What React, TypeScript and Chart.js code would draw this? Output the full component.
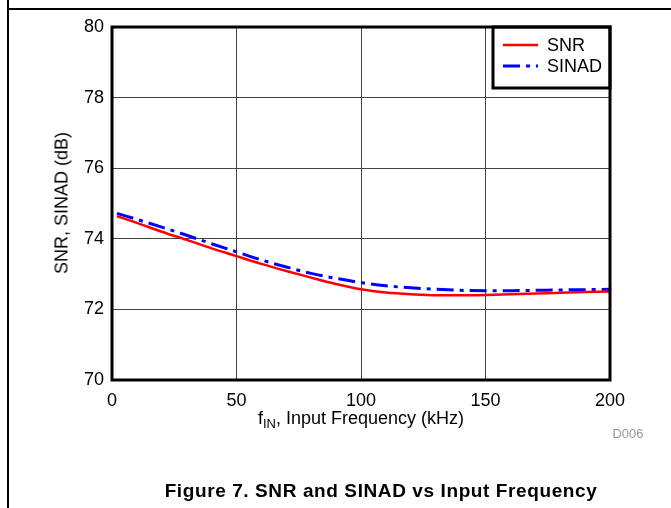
import React, { useEffect, useRef } from "react";
import { Chart, registerables } from "chart.js";

Chart.register(...registerables);

const freqKHz = [2, 10, 20, 30, 40, 50, 60, 70, 80, 90, 100, 110, 120, 130, 140, 150, 160, 170, 180, 190, 200];
const snr = [74.64, 74.45, 74.2, 73.97, 73.73, 73.51, 73.29, 73.09, 72.9, 72.72, 72.57, 72.48, 72.43, 72.4, 72.4, 72.41, 72.43, 72.45, 72.47, 72.49, 72.51];
const sinad = [74.72, 74.55, 74.33, 74.1, 73.86, 73.63, 73.4, 73.2, 73.02, 72.88, 72.76, 72.67, 72.61, 72.57, 72.54, 72.53, 72.53, 72.54, 72.55, 72.56, 72.57];
const seriesNames = ["SNR", "SINAD"];
const xTicks = [0, 50, 100, 150, 200];
const yTicks = [70, 72, 74, 76, 78, 80];

const FONT = "'Liberation Sans', Arial, sans-serif";

const framePlugin = {
  id: "frame",
  afterDatasetsDraw(chart: any) {
    const { ctx, chartArea } = chart;
    const { left, right, top, bottom } = chartArea;
    ctx.save();
    // legend box
    const lx = 493, ly = top, lw = right - 493, lh = 61;
    ctx.fillStyle = "#fff";
    ctx.fillRect(lx, ly, lw, lh);
    ctx.strokeStyle = "#000";
    ctx.lineWidth = 3;
    ctx.strokeRect(lx, ly, lw, lh);
    const rows = [
      { y: ly + 18, color: "#ff0000", dash: [] as number[], w: 2.5 },
      { y: ly + 39, color: "#0000ff", dash: [17, 6, 4, 6], w: 3 },
    ];
    rows.forEach((r, i) => {
      ctx.beginPath();
      ctx.setLineDash(r.dash);
      ctx.strokeStyle = r.color;
      ctx.lineWidth = r.w;
      ctx.moveTo(503, r.y);
      ctx.lineTo(538, r.y);
      ctx.stroke();
      ctx.setLineDash([]);
      ctx.fillStyle = "#000";
      ctx.font = `18px ${FONT}`;
      ctx.textBaseline = "middle";
      ctx.textAlign = "left";
      ctx.fillText(seriesNames[i], 547, r.y + 1);
    });
    // plot frame
    ctx.strokeStyle = "#000";
    ctx.lineWidth = 3;
    ctx.strokeRect(left, top, right - left, bottom - top);
    ctx.restore();
  },
};

function App() {
  const ref = useRef<HTMLCanvasElement | null>(null);
  useEffect(() => {
    if (!ref.current) return;
    const chart = new Chart(ref.current, {
      type: "line",
      data: {
        datasets: [
          {
            label: seriesNames[0],
            data: freqKHz.map((x, i) => ({ x, y: snr[i] })),
            borderColor: "#ff0000",
            borderWidth: 2.5,
            pointRadius: 0,
            cubicInterpolationMode: "monotone",
          },
          {
            label: seriesNames[1],
            data: freqKHz.map((x, i) => ({ x, y: sinad[i] })),
            borderColor: "#0000ff",
            borderWidth: 3,
            borderDash: [17, 6, 4, 6],
            pointRadius: 0,
            cubicInterpolationMode: "monotone",
          },
        ],
      },
      options: {
        responsive: false,
        animation: false,
        layout: { padding: { left: 0, top: 27, right: 61, bottom: 0 } },
        plugins: { legend: { display: false }, tooltip: { enabled: false } },
        scales: {
          x: {
            type: "linear",
            min: 0,
            max: 200,
            afterBuildTicks: (s: any) => {
              s.ticks = xTicks.map((v) => ({ value: v }));
            },
            afterFit: (s: any) => {
              s.height = 128;
            },
            grid: { color: "#444", lineWidth: 1, drawTicks: false },
            border: { display: false },
            ticks: { color: "#000", font: { family: FONT, size: 18 }, padding: 10, maxRotation: 0 },
          },
          y: {
            type: "linear",
            min: 70,
            max: 80,
            afterBuildTicks: (s: any) => {
              s.ticks = yTicks.map((v) => ({ value: v }));
            },
            afterFit: (s: any) => {
              s.width = 112;
            },
            grid: { color: "#444", lineWidth: 1, drawTicks: false },
            border: { display: false },
            ticks: { color: "#000", font: { family: FONT, size: 18 }, padding: 8 },
          },
        },
      },
      plugins: [framePlugin],
    } as any);
    return () => chart.destroy();
  }, []);

  return (
    <div style={{ position: "fixed", left: 0, top: 0, width: 671, height: 508, background: "#fff", overflow: "hidden", fontFamily: FONT }}>
      <canvas ref={ref} width={671} height={508} style={{ position: "absolute", left: 0, top: 0 }} />
      <div style={{ position: "absolute", left: 7, top: 0, width: 2, height: 508, background: "#000" }} />
      <div style={{ position: "absolute", left: 7, top: 8, width: 664, height: 2, background: "#000" }} />
      <div style={{ position: "absolute", left: 62, top: 203, transform: "translate(-50%, -50%) rotate(-90deg)", whiteSpace: "nowrap", fontSize: 18, color: "#000" }}>
        SNR, SINAD (dB)
      </div>
      <div style={{ position: "absolute", left: 361, top: 419, transform: "translate(-50%, -50%)", whiteSpace: "nowrap", fontSize: 18, color: "#000" }}>
        f<sub style={{ fontSize: 13, verticalAlign: -4 }}>IN</sub>, Input Frequency (kHz)
      </div>
      <div style={{ position: "absolute", left: 628, top: 433, transform: "translate(-50%, -50%)", whiteSpace: "nowrap", fontSize: 13, color: "#999" }}>
        D006
      </div>
      <div style={{ position: "absolute", left: 381, top: 491, transform: "translate(-50%, -50%)", whiteSpace: "nowrap", fontSize: 19, letterSpacing: 0.6, fontWeight: "bold", color: "#000" }}>
        Figure 7. SNR and SINAD vs Input Frequency
      </div>
    </div>
  );
}

export default App;
